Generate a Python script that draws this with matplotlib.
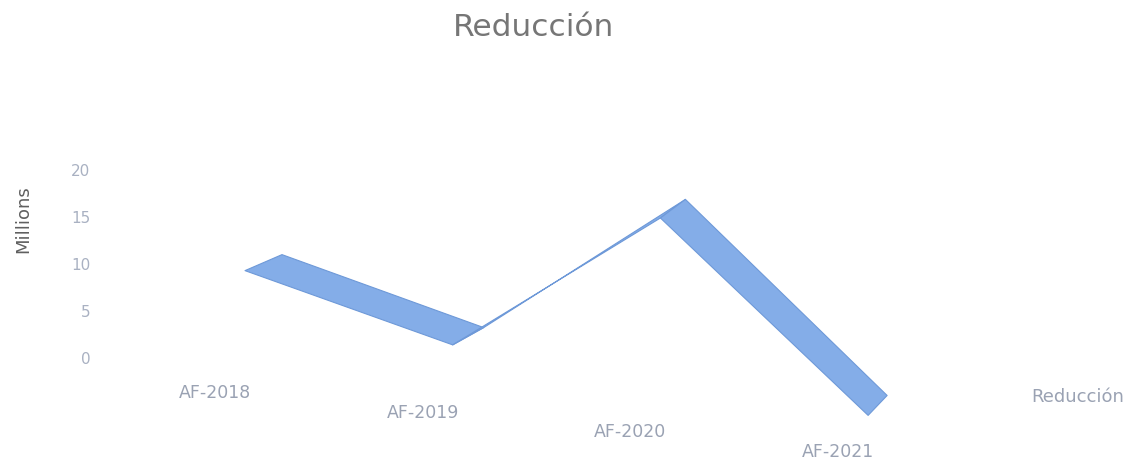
import numpy as np
import matplotlib
matplotlib.use("Agg")
import matplotlib.pyplot as plt
from matplotlib.patches import Polygon
from matplotlib.transforms import Affine2D, IdentityTransform, offset_copy

# ---- data ----
categories = ["AF-2018", "AF-2019", "AF-2020", "AF-2021"]
reduccion = [9.3, 1.4, 14.9, -6.1]   # millions (as read from the 3D view)
y_ticks = [0, 5, 10, 15, 20]
series_name = "Reducción"
title = "Reducción"
y_label = "Millions"

plt.rcParams['font.family'] = ['DejaVu Sans']

fig = plt.figure(figsize=(11.43, 4.62), dpi=100)
ax = fig.add_axes([0.0875, 0.0, 0.7874, 0.7835])
ax.set_xlim(-0.698, 3.635)
ax.set_ylim(-11.06, 27.45)
for s in ax.spines.values():
    s.set_visible(False)
ax.set_xticks([])
ax.set_yticks(y_ticks)
ax.set_yticklabels([str(t) for t in y_ticks], fontsize=11, color="#a9b1c2")
ax.tick_params(axis='y', length=0, pad=7)
ax.set_ylabel(y_label, fontsize=13, color="#5f5f5f")
ax.yaxis.set_label_coords(-0.075, 0.672)

fig.text(0.467, 0.94, title, ha='center', va='center', fontsize=22.5,
         color="#767676")

# ---- 3D ribbon (oblique depth with mild perspective) ----
x = np.arange(len(categories))
front = ax.transData.transform(np.column_stack([x, reduccion]))
n = len(categories)
depth = np.array([[37 - 6 * i, 16 + 1.3 * i] for i in range(n)])  # display px
back = front + depth

ribbon_color = "#84ade8"
edge_color = "#6e99d8"
for i in range(n - 1):
    verts = np.array([front[i], front[i + 1], back[i + 1], back[i]])
    poly = Polygon(verts, closed=True, transform=IdentityTransform(),
                   facecolor=ribbon_color, edgecolor=edge_color, lw=0.8,
                   joinstyle='round', zorder=3)
    ax.add_artist(poly)

# ---- category labels on the tilted floor ----
floor_tr = Affine2D().skew(0, np.arctan(-2.1)) + ax.transData
floor_tr = offset_copy(floor_tr, fig=fig, x=-30, y=0, units='dots')
for i, c in enumerate(categories):
    ax.text(x[i], -3.7, c, transform=floor_tr, ha='center', va='center',
            fontsize=12.5, color="#9aa2b3")

# ---- legend ----
handle = Polygon([[0, 0]], facecolor=ribbon_color)
fig.legend([handle], [series_name], loc='center', bbox_to_anchor=(0.943, 0.141),
           frameon=False, handlelength=0, handletextpad=0, fontsize=13,
           labelcolor="#9aa2b3")

fig.savefig("out.png", dpi=100)
